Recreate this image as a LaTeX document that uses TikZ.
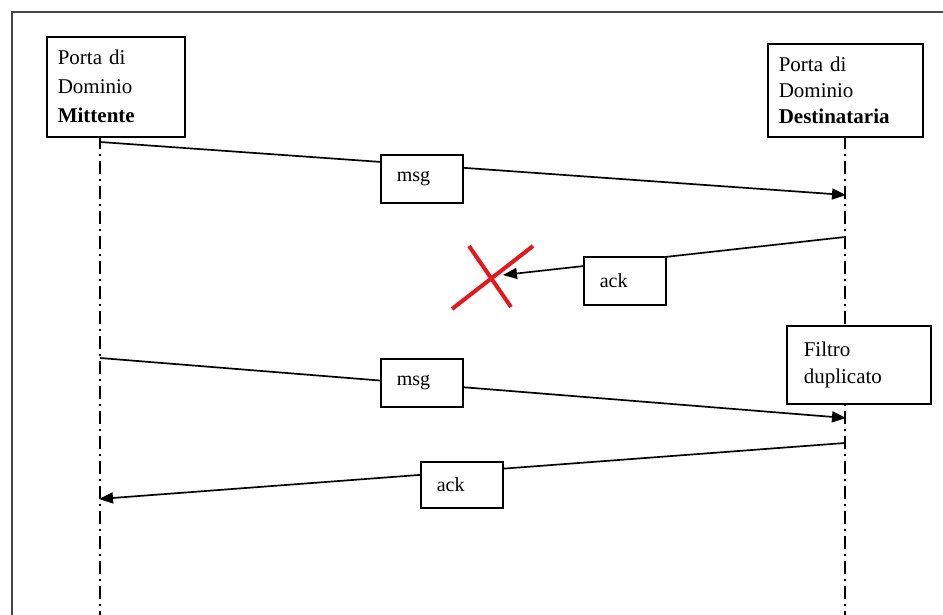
\documentclass[tikz,border=0pt]{standalone}
\usepackage{fontspec}
\setmainfont{Liberation Serif}
\usetikzlibrary{arrows.meta}
\definecolor{xred}{RGB}{228,24,30}
\definecolor{framegray}{RGB}{70,70,70}
\pgfdeclarelayer{bg}
\pgfsetlayers{bg,main}
\begin{document}
\begin{tikzpicture}[x=1pt,y=-1pt,
  lbl/.style={draw=black, line width=1.6pt, fill=white, inner xsep=16pt, inner ysep=0pt,
    text width=50pt, align=left, minimum height=48pt, font=\fontsize{20}{24}\selectfont, anchor=north west},
  portbox/.style={draw=black, line width=1.6pt, fill=white, anchor=north west, align=left,
    inner ysep=0pt},
  lifeline/.style={line width=1.8pt, dash pattern=on 13pt off 5pt on 2pt off 5pt},
  msgline/.style={line width=1.7pt, -{Triangle[length=14pt,width=11pt]}},
  cross/.style={line width=4pt, draw=xred}
]
\useasboundingbox (0,0) rectangle (943,615);
% outer frame
\draw[line width=2.6pt, framegray] (12,615) -- (12,12) -- (943,12);

% boxes
\node[portbox, inner xsep=11pt, text width=116pt, minimum height=100pt,
      font=\fontsize{21}{29}\selectfont] (mitt) at (46,36)
  {Porta di\\Dominio\\\textbf{Mittente}};
\node[portbox, inner xsep=11pt, text width=133pt, minimum height=93pt,
      font=\fontsize{21}{26}\selectfont] (dest) at (767,43)
  {Porta di\\Dominio\\\textbf{Destinataria}};
\node[portbox, inner xsep=17pt, text width=110pt, minimum height=78pt,
      font=\fontsize{21}{27}\selectfont] (filtro) at (786,325)
  {Filtro\\duplicato};

% lifeline coordinates
\coordinate (Ltop) at (100,136);
\coordinate (Lbot) at (100,615);
\coordinate (Rtop) at (845,136);
\coordinate (Rbot) at (845,615);

% message end points
\coordinate (m1s) at (100,142);
\coordinate (m1e) at (846,195);
\coordinate (a1s) at (845,237);
\coordinate (a1e) at (503,275);
\coordinate (m2s) at (100,358);
\coordinate (m2e) at (846,418);
\coordinate (a2s) at (845,443);
\coordinate (a2e) at (99,499);

% labels
\node[lbl] (msg1) at (380,154) {msg};
\node[lbl] (ack1) at (583,256) {ack};
\node[lbl] (msg2) at (380,358) {msg};
\node[lbl, minimum height=46pt] (ack2) at (420,461) {ack};

\begin{pgfonlayer}{bg}
  \draw[lifeline] (Ltop) -- (Lbot);
  \draw[lifeline] (Rtop) -- (Rbot);
  \draw[msgline] (m1s) -- (m1e);
  \draw[msgline] (a1s) -- (a1e);
  \draw[msgline] (m2s) -- (m2e);
  \draw[msgline] (a2s) -- (a2e);
\end{pgfonlayer}

% red cross
\coordinate (x1a) at (452,309);
\coordinate (x1b) at (533,246);
\coordinate (x2a) at (469,246);
\coordinate (x2b) at (511,307);
\draw[cross] (x1a) -- (x1b);
\draw[cross] (x2a) -- (x2b);
\end{tikzpicture}
\end{document}
